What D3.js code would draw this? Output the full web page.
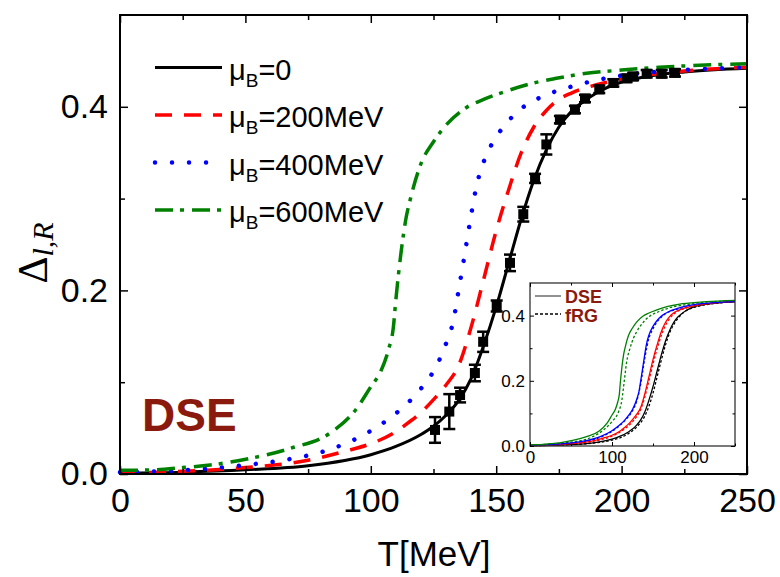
<!DOCTYPE html>
<html lang="en">
<head>
<meta charset="utf-8">
<title>Delta l,R vs T</title>
<script src="https://cdnjs.cloudflare.com/ajax/libs/d3/7.8.5/d3.min.js"></script>
<style>
  body { margin: 0; background: #fff; }
  svg { display: block; font-family: "Liberation Sans", Arial, sans-serif; }
</style>
</head>
<body>
<script>
// ---- data ----
const tBlack = [0, 25, 50, 75, 100, 110, 120, 125, 130, 135, 140, 145, 150, 155, 160, 165, 170, 175, 180, 185, 190, 200, 210, 225, 250];
const vBlack = [0.001, 0.002, 0.0045, 0.009, 0.021, 0.03, 0.043, 0.052, 0.064, 0.08, 0.104, 0.14, 0.182, 0.23, 0.278, 0.32, 0.353, 0.378, 0.395, 0.406, 0.415, 0.427, 0.433, 0.438, 0.442];

const tRed = [0, 25, 50, 75, 90, 100, 110, 115, 120, 125, 130, 135, 140, 145, 150, 155, 160, 165, 170, 175, 180, 190, 200, 225, 250];
const vRed = [0.001, 0.003, 0.007, 0.015, 0.025, 0.033, 0.046, 0.056, 0.067, 0.081, 0.097, 0.118, 0.16, 0.212, 0.265, 0.31, 0.35, 0.378, 0.396, 0.408, 0.415, 0.424, 0.43, 0.439, 0.443];

const tBlue = [0, 25, 50, 65, 85, 100, 110, 115, 120, 125, 130, 133, 135, 137, 140, 142, 145, 150, 155, 160, 170, 180, 190, 200, 225, 250];
const vBlue = [0.002, 0.004, 0.0098, 0.015, 0.028, 0.047, 0.066, 0.078, 0.093, 0.112, 0.142, 0.168, 0.2, 0.232, 0.282, 0.312, 0.34, 0.367, 0.385, 0.398, 0.413, 0.422, 0.429, 0.434, 0.44, 0.443];

const tGreen = [0, 12, 25, 36, 52, 68, 84, 94, 100, 104, 107, 109, 110, 112, 114, 116, 120, 125, 130, 138, 145, 154, 165, 174, 186, 200, 215, 250];
const vGreen = [0.004, 0.0044, 0.007, 0.0098, 0.017, 0.028, 0.045, 0.07, 0.095, 0.112, 0.135, 0.16, 0.19, 0.24, 0.278, 0.302, 0.338, 0.362, 0.38, 0.399, 0.408, 0.417, 0.426, 0.431, 0.4365, 0.44, 0.443, 0.447];

// lattice points with error bars
const tPts = [125.6, 131.3, 135.6, 141.5, 144.8, 150.2, 155.5, 160.8, 165.5, 170.0, 175.4, 181.4, 185.4, 191.1, 196.7, 202.0, 204.6, 210.0, 216.0, 221.3];
const vPts = [0.048, 0.068, 0.086, 0.110, 0.144, 0.183, 0.230, 0.283, 0.322, 0.359, 0.386, 0.397, 0.409, 0.419, 0.426, 0.431, 0.433, 0.436, 0.436, 0.437];
const ePts = [0.014, 0.019, 0.008, 0.009, 0.011, 0.006, 0.009, 0.008, 0.005, 0.011, 0.004, 0.004, 0.004, 0.004, 0.004, 0.004, 0.004, 0.004, 0.004, 0.004];

// inset fRG curves
const tFrgBlack = [0, 50, 100, 120, 130, 140, 145, 150, 155, 160, 165, 170, 180, 200, 250];
const vFrgBlack = [0.001, 0.004, 0.018, 0.038, 0.058, 0.092, 0.122, 0.162, 0.212, 0.262, 0.308, 0.345, 0.39, 0.425, 0.443];
const tFrgRed = [0, 50, 100, 115, 125, 130, 135, 140, 145, 150, 155, 160, 170, 190, 250];
const vFrgRed = [0.001, 0.006, 0.03, 0.052, 0.074, 0.09, 0.112, 0.15, 0.2, 0.252, 0.298, 0.338, 0.39, 0.423, 0.443];
const tFrgBlue = [0, 50, 85, 100, 110, 120, 125, 130, 135, 140, 145, 150, 160, 180, 250];
const vFrgBlue = [0.002, 0.009, 0.026, 0.045, 0.064, 0.09, 0.108, 0.136, 0.19, 0.27, 0.33, 0.36, 0.395, 0.42, 0.443];
const tFrgGreen = [0, 50, 75, 90, 100, 108, 112, 115, 118, 122, 126, 130, 140, 160, 200, 250];
const vFrgGreen = [0.003, 0.012, 0.027, 0.05, 0.075, 0.105, 0.14, 0.2, 0.26, 0.3, 0.33, 0.35, 0.385, 0.415, 0.437, 0.446];

const legendLabels = ["0", "200MeV", "400MeV", "600MeV"];
const xMajor = [0, 50, 100, 150, 200, 250];
const xMinor = [25, 75, 125, 175, 225];
const yMajor = [0, 0.2, 0.4];
const yMinor = [0.1, 0.3];
const insetXMajor = [0, 100, 200];
const insetXMinor = [50, 150, 250];

// ---- svg ----
const w = 780, h = 577;
const svg = d3.select("body").append("svg").attr("width", w).attr("height", h);

const x = d3.scaleLinear().domain([0, 250]).range([120, 747]);
const y = d3.scaleLinear().domain([0, 0.5]).range([474, 15]);

const zip = (ts, vs) => ts.map((t, i) => [t, vs[i]]);

const series = [
  { pts: zip(tBlack, vBlack), color: "#000", dash: null, width: 3, cap: "butt" },
  { pts: zip(tRed, vRed), color: "#ff0000", dash: "17 12", width: 3.5, cap: "butt" },
  { pts: zip(tBlue, vBlue), color: "#0000ff", dash: "0.01 17", width: 4.5, cap: "round" },
  { pts: zip(tGreen, vGreen), color: "#008000", dash: "18 7 4 8", width: 3.5, cap: "butt" }
];

const line = d3.line().x(d => x(d[0])).y(d => y(d[1])).curve(d3.curveMonotoneX);

// axes helper: inward ticks on all four sides
function drawAxes(g, xs, ys, xMaj, xMin, yMaj, yMin, majLen, minLen, fs, xPad, yPad, fmtX, fmtY) {
  const [x0, x1] = xs.range();
  const [y0, y1] = ys.range();
  const style = sel => {
    sel.select(".domain").remove();
    sel.selectAll("line").attr("stroke", "#000").attr("stroke-width", 1.5);
    sel.selectAll("text").attr("font-size", fs).attr("fill", "#000");
  };
  g.append("g").attr("transform", `translate(0,${y0})`)
    .call(d3.axisBottom(xs).tickValues(xMaj).tickSizeInner(-majLen).tickSizeOuter(0).tickPadding(xPad).tickFormat(fmtX)).call(style);
  g.append("g").attr("transform", `translate(0,${y0})`)
    .call(d3.axisBottom(xs).tickValues(xMin).tickSizeInner(-minLen).tickSizeOuter(0).tickFormat("")).call(style);
  g.append("g").attr("transform", `translate(0,${y1})`)
    .call(d3.axisTop(xs).tickValues(xMaj).tickSizeInner(-majLen).tickSizeOuter(0).tickFormat("")).call(style);
  g.append("g").attr("transform", `translate(0,${y1})`)
    .call(d3.axisTop(xs).tickValues(xMin).tickSizeInner(-minLen).tickSizeOuter(0).tickFormat("")).call(style);
  g.append("g").attr("transform", `translate(${x0},0)`)
    .call(d3.axisLeft(ys).tickValues(yMaj).tickSizeInner(-majLen).tickSizeOuter(0).tickPadding(yPad).tickFormat(fmtY)).call(style);
  g.append("g").attr("transform", `translate(${x0},0)`)
    .call(d3.axisLeft(ys).tickValues(yMin).tickSizeInner(-minLen).tickSizeOuter(0).tickFormat("")).call(style);
  g.append("g").attr("transform", `translate(${x1},0)`)
    .call(d3.axisRight(ys).tickValues(yMaj).tickSizeInner(-majLen).tickSizeOuter(0).tickFormat("")).call(style);
  g.append("g").attr("transform", `translate(${x1},0)`)
    .call(d3.axisRight(ys).tickValues(yMin).tickSizeInner(-minLen).tickSizeOuter(0).tickFormat("")).call(style);
}

// curves
svg.append("g").selectAll("path")
  .data(series)
  .join("path")
  .attr("d", d => line(d.pts))
  .attr("fill", "none")
  .attr("stroke", d => d.color)
  .attr("stroke-width", d => d.width)
  .attr("stroke-dasharray", d => d.dash)
  .attr("stroke-linecap", d => d.cap);

// data points with error bars
const pts = tPts.map((t, i) => ({ t: t, v: vPts[i], e: ePts[i] }));
const pg = svg.append("g").selectAll("g").data(pts).join("g");
pg.append("line")
  .attr("x1", d => x(d.t)).attr("x2", d => x(d.t))
  .attr("y1", d => y(d.v - d.e)).attr("y2", d => y(d.v + d.e))
  .attr("stroke", "#000").attr("stroke-width", 2.5);
pg.selectAll(".cap").data(d => [[d.t, d.v - d.e], [d.t, d.v + d.e]]).join("line")
  .attr("x1", d => x(d[0]) - 6).attr("x2", d => x(d[0]) + 6)
  .attr("y1", d => y(d[1])).attr("y2", d => y(d[1]))
  .attr("stroke", "#000").attr("stroke-width", 2.5);
pg.append("rect")
  .attr("x", d => x(d.t) - 5).attr("y", d => y(d.v) - 5)
  .attr("width", 10).attr("height", 10).attr("fill", "#000");

// frame + axes
svg.append("rect").attr("x", 120).attr("y", 15).attr("width", 627).attr("height", 459)
  .attr("fill", "none").attr("stroke", "#000").attr("stroke-width", 2);
drawAxes(svg.append("g"), x, y, xMajor, xMinor, yMajor, yMinor, 8, 5, 34, 14, 12,
  d3.format("d"), d3.format(".1f"));

// axis titles
svg.append("text").attr("x", 434).attr("y", 566).attr("text-anchor", "middle")
  .attr("font-size", 35).text("T[MeV]");
const yt = svg.append("text").attr("transform", "translate(47,253) rotate(-90)")
  .attr("text-anchor", "middle").attr("font-family", "'Liberation Serif', 'DejaVu Serif', serif");
yt.append("tspan").attr("font-size", 42).text("Δ");
yt.append("tspan").attr("font-size", 30).attr("font-style", "italic").attr("dy", 6).text("l,R");

// legend
const lg = svg.append("g").selectAll("g").data(series).join("g")
  .attr("transform", (d, i) => `translate(0,${67.5 + i * 47.5})`);
lg.append("line").attr("x1", 155).attr("x2", 222).attr("y1", 0).attr("y2", 0)
  .attr("stroke", d => d.color).attr("stroke-width", d => d.width)
  .attr("stroke-dasharray", d => d.dash).attr("stroke-linecap", d => d.cap);
const lt = lg.append("text").attr("x", 229).attr("y", 12).attr("font-size", 29);
lt.append("tspan").text("μ");
lt.append("tspan").attr("font-size", 19).attr("dy", 7).text("B");
lt.append("tspan").attr("dy", -7).text((d, i) => "=" + legendLabels[i]);

// DSE label
svg.append("text").attr("x", 142).attr("y", 431).attr("font-size", 46)
  .attr("font-weight", "bold").attr("fill", "#8b1a0e").text("DSE");

// ---- inset ----
const ix = d3.scaleLinear().domain([0, 250]).range([530, 735]);
const iy = d3.scaleLinear().domain([0, 0.5]).range([446, 283]);
const ig = svg.append("g");
ig.append("rect").attr("x", 530).attr("y", 283).attr("width", 205).attr("height", 163)
  .attr("fill", "#fff");
const iline = d3.line().x(d => ix(d[0])).y(d => iy(d[1])).curve(d3.curveMonotoneX);
const insetSeries = [
  { pts: zip(tFrgBlack, vFrgBlack), color: "#000", dash: "2.5 2" },
  { pts: zip(tFrgRed, vFrgRed), color: "#ff0000", dash: "2.5 2" },
  { pts: zip(tFrgBlue, vFrgBlue), color: "#0000ff", dash: "2.5 2" },
  { pts: zip(tFrgGreen, vFrgGreen), color: "#008000", dash: "2.5 2" }
].concat(series.map(s => ({ pts: s.pts, color: s.color, dash: null })));
ig.append("g").selectAll("path").data(insetSeries).join("path")
  .attr("d", d => iline(d.pts))
  .attr("fill", "none").attr("stroke", d => d.color).attr("stroke-width", 1.3)
  .attr("stroke-dasharray", d => d.dash);
ig.append("rect").attr("x", 530).attr("y", 283).attr("width", 205).attr("height", 163)
  .attr("fill", "none").attr("stroke", "#333").attr("stroke-width", 1.3);
drawAxes(ig.append("g"), ix, iy, insetXMajor, insetXMinor, yMajor, yMinor, 4, 2.5, 17, 5, 5,
  d3.format("d"), d3.format(".1f"));
ig.selectAll("g line").attr("stroke-width", 1);

// inset legend
ig.append("line").attr("x1", 535).attr("x2", 561).attr("y1", 296).attr("y2", 296)
  .attr("stroke", "#555").attr("stroke-width", 1.3);
ig.append("line").attr("x1", 535).attr("x2", 561).attr("y1", 314).attr("y2", 314)
  .attr("stroke", "#000").attr("stroke-width", 1.3).attr("stroke-dasharray", "3 2");
ig.append("text").attr("x", 565).attr("y", 303).attr("font-size", 18)
  .attr("font-weight", "bold").attr("fill", "#8b1a0e").text("DSE");
ig.append("text").attr("x", 565).attr("y", 322).attr("font-size", 18)
  .attr("font-weight", "bold").attr("fill", "#8b1a0e").text("fRG");
</script>
</body>
</html>
